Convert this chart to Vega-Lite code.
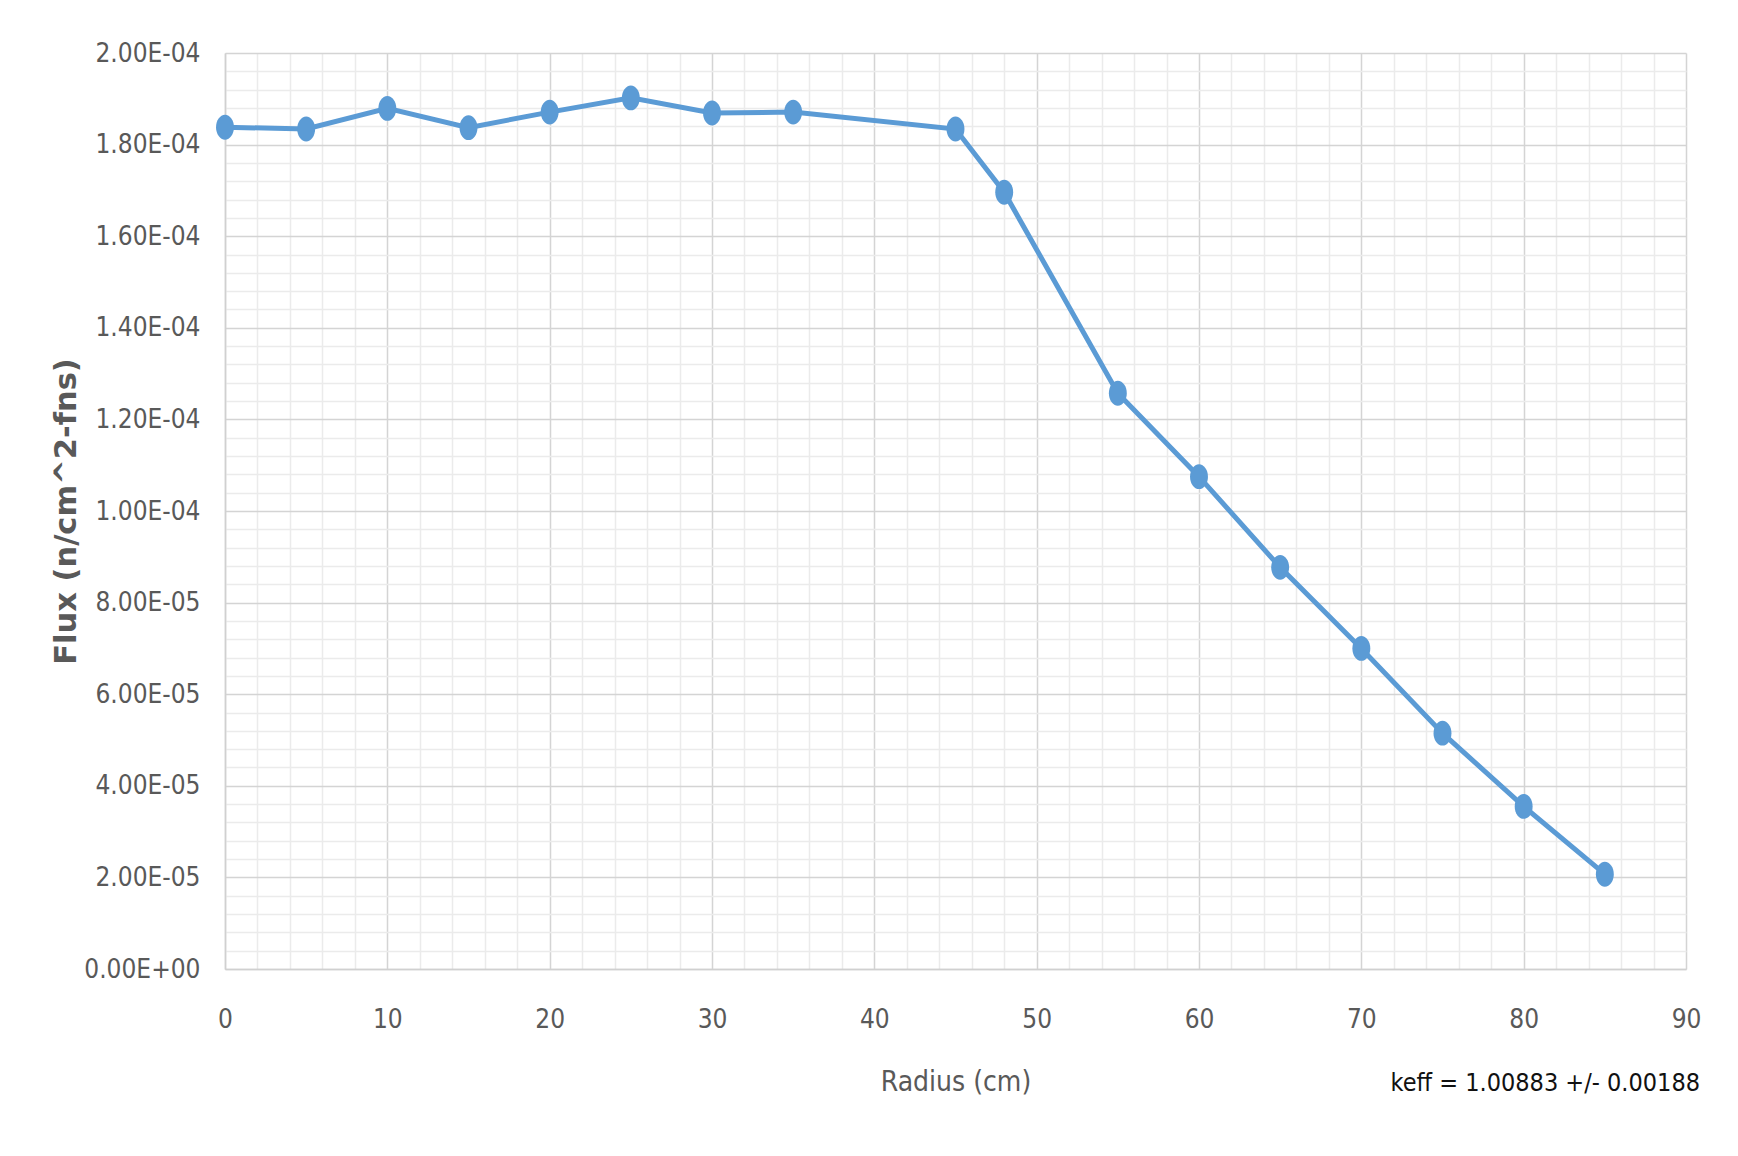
{
  "$schema": "https://vega.github.io/schema/vega-lite/v6.json",
  "width": 1461,
  "height": 916,
  "autosize": {"type": "none"},
  "padding": {"left": 225, "top": 53, "right": 52, "bottom": 187},
  "background": "white",
  "title": {
    "text": "keff = 1.00883 +/- 0.00188",
    "orient": "bottom",
    "anchor": "end",
    "frame": "group",
    "offset": -25,
    "dx": 14,
    "font": "DejaVu Sans Condensed, DejaVu Sans",
    "fontSize": 25,
    "fontWeight": "normal",
    "color": "#111111"
  },
  "config": {
    "view": {"stroke": null},
    "axis": {
      "labelFont": "DejaVu Sans Condensed, DejaVu Sans",
      "labelColor": "#595959",
      "ticks": false,
      "tickSize": 0,
      "domainColor": "#d0d0d0",
      "domainWidth": 1.5
    }
  },
  "data": {
    "values": [
      {"radius": 0, "flux": 0.0001838},
      {"radius": 5, "flux": 0.0001834},
      {"radius": 10, "flux": 0.0001879},
      {"radius": 15, "flux": 0.0001837},
      {"radius": 20, "flux": 0.0001871},
      {"radius": 25, "flux": 0.0001902},
      {"radius": 30, "flux": 0.0001869},
      {"radius": 35, "flux": 0.0001871},
      {"radius": 45, "flux": 0.0001834},
      {"radius": 48, "flux": 0.0001696},
      {"radius": 55, "flux": 0.0001257},
      {"radius": 60, "flux": 0.0001075},
      {"radius": 65, "flux": 0.0000877},
      {"radius": 70, "flux": 0.00007},
      {"radius": 75, "flux": 0.0000515},
      {"radius": 80, "flux": 0.0000355},
      {"radius": 85, "flux": 0.0000207}
    ]
  },
  "encoding": {
    "x": {
      "field": "radius",
      "type": "quantitative",
      "scale": {"domain": [0, 90], "nice": false, "zero": false},
      "axis": {
        "title": "Radius (cm)",
        "titleFont": "DejaVu Sans Condensed, DejaVu Sans",
        "titleFontSize": 28,
        "titleFontWeight": "normal",
        "titleColor": "#595959",
        "titlePadding": 36,
        "values": [0, 2, 4, 6, 8, 10, 12, 14, 16, 18, 20, 22, 24, 26, 28, 30, 32, 34, 36, 38, 40, 42, 44, 46, 48, 50, 52, 54, 56, 58, 60, 62, 64, 66, 68, 70, 72, 74, 76, 78, 80, 82, 84, 86, 88, 90],
        "labelExpr": "round(datum.value) % 10 === 0 ? datum.label : ''",
        "labelFontSize": 26,
        "labelPadding": 37,
        "labelFlush": false,
        "labelOverlap": false,
        "grid": true,
        "gridColor": {"condition": {"test": "round(datum.value) % 10 === 0", "value": "#d4d4d4"}, "value": "#ebebeb"},
        "gridWidth": 1.5
      }
    },
    "y": {
      "field": "flux",
      "type": "quantitative",
      "scale": {"domain": [0, 0.0002], "nice": false},
      "axis": {
        "title": "Flux (n/cm^2-fns)",
        "titleFont": "DejaVu Sans",
        "titleFontSize": 30.5,
        "titleFontWeight": "bold",
        "titleColor": "#595959",
        "titlePadding": 2,
        "values": [0, 0.000004, 0.000008, 0.000012, 0.000016, 0.00002, 0.000024, 0.000028, 0.000032, 0.000036, 0.00004, 0.000044, 0.000048, 0.000052, 0.000056, 0.00006, 0.000064, 0.000068, 0.000072, 0.000076, 0.00008, 0.000084, 0.000088, 0.000092, 0.000096, 0.0001, 0.000104, 0.000108, 0.000112, 0.000116, 0.00012, 0.000124, 0.000128, 0.000132, 0.000136, 0.00014, 0.000144, 0.000148, 0.000152, 0.000156, 0.00016, 0.000164, 0.000168, 0.000172, 0.000176, 0.00018, 0.000184, 0.000188, 0.000192, 0.000196, 0.0002],
        "labelExpr": "round(datum.value / 0.000004) % 5 !== 0 ? '' : (datum.value === 0 ? '0.00E+00' : replace(format(datum.value, '.2e'), 'e-', 'E-0'))",
        "labelFontSize": 26,
        "labelPadding": 25,
        "labelOverlap": false,
        "labelFlush": false,
        "grid": true,
        "gridColor": {"condition": {"test": "round(datum.value / 0.000004) % 5 === 0", "value": "#d4d4d4"}, "value": "#ebebeb"},
        "gridWidth": 1.5
      }
    }
  },
  "layer": [
    {
      "mark": {"type": "line", "color": "#5B9BD5", "strokeWidth": 5}
    },
    {
      "mark": {
        "type": "point",
        "filled": true,
        "opacity": 1,
        "color": "#5B9BD5",
        "size": 620,
        "shape": "M0,-1A0.72,1 0 1,1 0,1A0.72,1 0 1,1 0,-1Z"
      }
    }
  ]
}
